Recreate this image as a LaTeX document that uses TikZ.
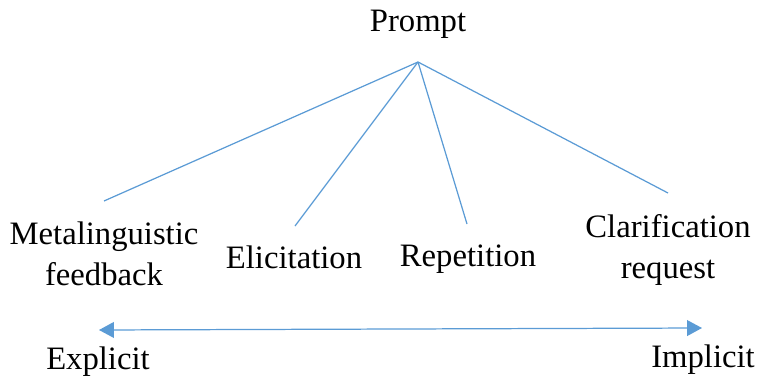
\documentclass[tikz,border=0pt]{standalone}
\usepackage{fontspec}
\setmainfont{Liberation Serif}
\usepackage{xcolor}
\usetikzlibrary{arrows.meta}

\definecolor{lineblue}{HTML}{5B9BD5}

\tikzset{
    lbl/.style={font=\fontsize{18.6}{22}\selectfont, align=center, inner sep=0pt},
    branch/.style={draw=lineblue, line width=0.7pt}
}

\begin{document}
\begin{tikzpicture}[x=0.02cm, y=-0.02cm]
    \useasboundingbox (0,0) rectangle (761,382);

    \node (prompt) at (418,24) [lbl] {Prompt};
    \node (meta) at (104,254) [lbl] {Metalinguistic\\[1.5pt]feedback};
    \node (elic) at (294,257) [lbl] {Elicitation};
    \node (rep) at (468,259) [lbl] {Repetition};
    \node (clar) at (668,250) [lbl] {Clarification\\[1.5pt]request};
    \node (expl) at (98,362) [lbl] {Explicit};
    \node (impl) at (703,360) [lbl] {Implicit};

    \coordinate (apex) at (418,62);
    \coordinate (metaend) at (104,201);
    \coordinate (elicend) at (295,226);
    \coordinate (repend) at (467,224);
    \coordinate (clarend) at (668,193);
    \coordinate (left) at (99,330);
    \coordinate (right) at (702,328);

    \draw[branch] (apex) -- (metaend);
    \draw[branch] (apex) -- (elicend);
    \draw[branch] (apex) -- (repend);
    \draw[branch] (apex) -- (clarend);

    \draw[branch, {Triangle[length=8.5pt,width=9pt]}-{Triangle[length=8.5pt,width=9pt]}] (left) -- (right);
\end{tikzpicture}
\end{document}
